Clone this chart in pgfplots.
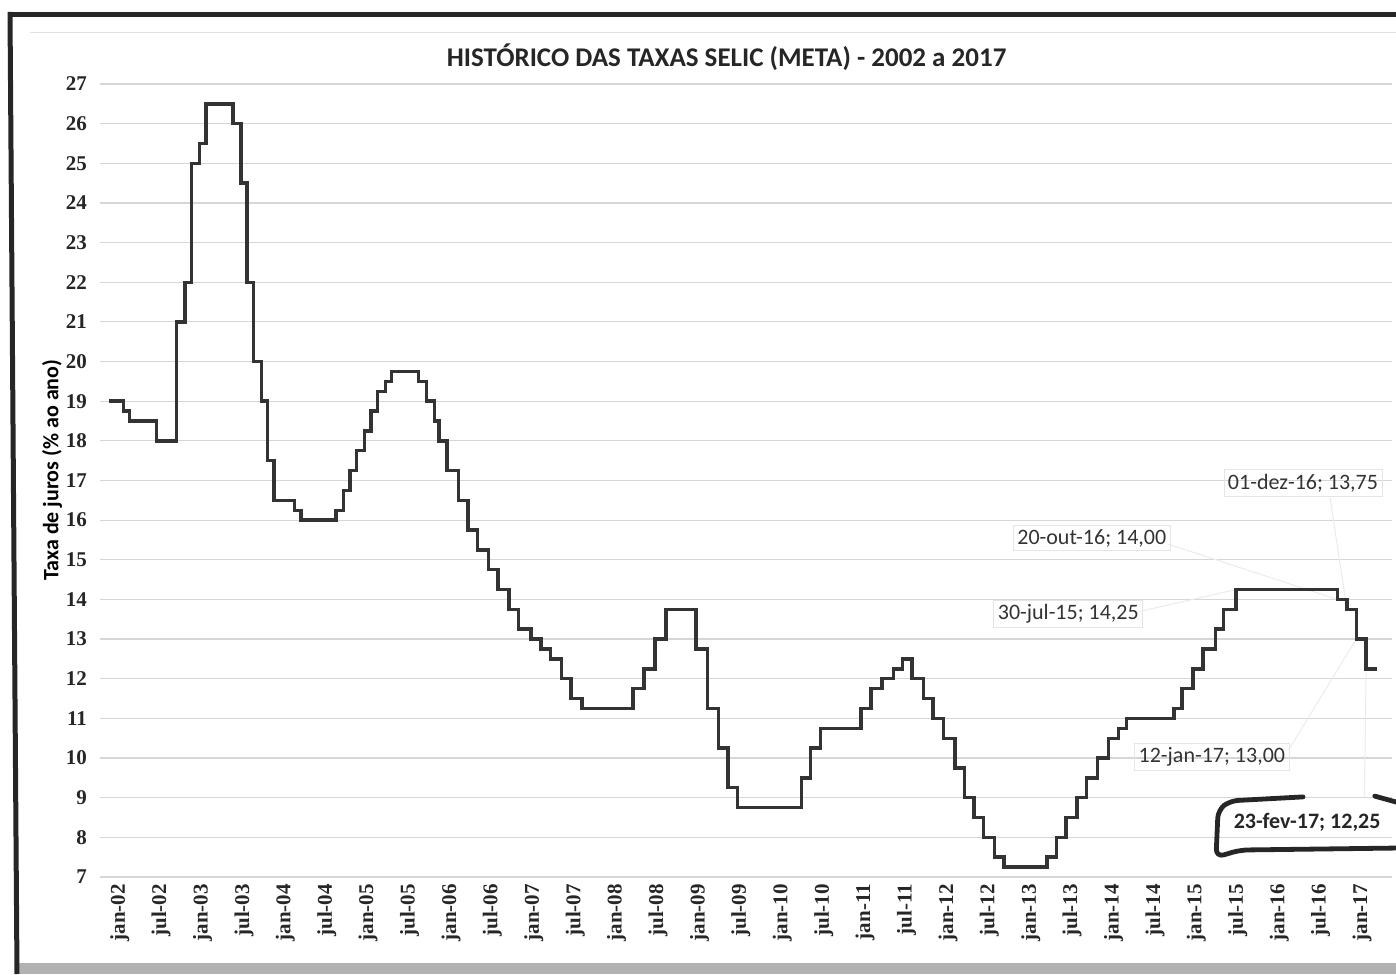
\documentclass[border=0pt]{standalone}
\usepackage{pgfplots}
\pgfplotsset{compat=1.18}
\usepackage{fontspec}
\setmainfont{Carlito}
\newfontfamily\tickfont{Liberation Serif}

\begin{document}
\begin{tikzpicture}
\begin{axis}[
  at={(50pt,48.5pt)}, anchor=south west, scale only axis,
  width=646pt, height=396.5pt,
  xmin=-1.7, xmax=185.5, ymin=7, ymax=27,
  ytick={7,8,...,27},
  xtick={0,6,...,180},
  xticklabels={jan-02,jul-02,jan-03,jul-03,jan-04,jul-04,jan-05,jul-05,jan-06,jul-06,jan-07,jul-07,jan-08,jul-08,jan-09,jul-09,jan-10,jul-10,jan-11,jul-11,jan-12,jul-12,jan-13,jul-13,jan-14,jul-14,jan-15,jul-15,jan-16,jul-16,jan-17},
  axis line style={draw=none}, major tick length=0pt,
  ymajorgrids, grid style={black!16, line width=0.6pt},
  tick label style={font=\tickfont\bfseries\fontsize{10.5}{12}\selectfont, text=black!85},
  /pgf/number format/assume math mode=true,
  yticklabel style={xshift=-3pt},
  xticklabel style={rotate=90, anchor=east, yshift=-4pt},
  ylabel={Taxa de juros (\% ao ano)},
  ylabel style={font=\bfseries\fontsize{11}{13}\selectfont, at={(axis description cs:-0.037,0.513)}, anchor=center},
  clip=false,
]
\node[font=\bfseries\fontsize{13.5}{16}\selectfont, text=black!85] at (axis description cs:0.485,1.034) {HISTÓRICO DAS TAXAS SELIC (META) - 2002 a 2017};

% leader lines (faint)
\draw[black!8, line width=0.5pt] (axis cs:176.5,16.6) -- (axis cs:178.97,13.75);
\draw[black!8, line width=0.5pt] (axis cs:153,15.4) -- (axis cs:177.58,14.0);
\draw[black!8, line width=0.5pt] (axis cs:149,13.7) -- (axis cs:162.9,14.25);
\draw[black!8, line width=0.5pt] (axis cs:170.5,10.2) -- (axis cs:180.32,13.0);
\draw[black!8, line width=0.5pt] (axis cs:181.5,9.0) -- (axis cs:181.75,12.25);

\addplot[const plot, draw=black!80, line width=1.7pt] table {
x y
-0.4 19.00
1.68 18.75
2.61 18.50
6.52 18.00
9.42 21.00
10.63 22.00
11.55 25.00
12.68 25.50
13.64 26.50
17.57 26.00
18.71 24.50
19.61 22.00
20.53 20.00
21.68 19.00
22.60 17.50
23.52 16.50
26.52 16.25
27.43 16.00
32.47 16.25
33.61 16.75
34.53 17.25
35.45 17.75
36.58 18.25
37.54 18.75
38.48 19.25
39.63 19.50
40.55 19.75
44.43 19.50
45.58 19.00
46.73 18.50
47.42 18.00
48.55 17.25
50.23 16.50
51.60 15.75
52.97 15.25
54.58 14.75
55.94 14.25
57.55 13.75
58.93 13.25
60.74 13.00
62.19 12.75
63.57 12.50
65.17 12.00
66.55 11.50
68.13 11.25
75.50 11.75
77.10 12.25
78.71 13.00
80.30 13.75
84.65 12.75
86.32 11.25
87.93 10.25
89.30 9.25
90.68 8.75
99.90 9.50
101.27 10.25
102.65 10.75
108.58 11.25
110.03 11.75
111.63 12.00
113.23 12.25
114.61 12.50
115.97 12.00
117.58 11.50
118.97 11.00
120.55 10.50
122.19 9.75
123.57 9.00
124.94 8.50
126.32 8.00
127.90 7.50
129.29 7.25
135.53 7.50
136.90 8.00
138.29 8.50
139.87 9.00
141.26 9.50
142.87 10.00
144.45 10.50
145.89 10.75
147.03 11.00
153.90 11.25
155.06 11.75
156.65 12.25
158.10 12.75
159.93 13.25
161.07 13.75
162.90 14.25
177.58 14.00
178.97 13.75
180.32 13.00
181.75 12.25
183.30 12.25
};

\node[font=\fontsize{11}{13}\selectfont, text=black!80, draw=black!10, inner sep=2pt] at (axis cs:172.6,16.94) {01-dez-16; 13,75};
\node[font=\fontsize{11}{13}\selectfont, text=black!80, draw=black!10, inner sep=2pt] at (axis cs:142.0,15.55) {20-out-16; 14,00};
\node[font=\fontsize{11}{13}\selectfont, text=black!80, draw=black!10, inner sep=2pt] at (axis cs:138.6,13.63) {30-jul-15; 14,25};
\node[font=\fontsize{11}{13}\selectfont, text=black!80, draw=black!10, inner sep=2pt] at (axis cs:159.4,10.03) {12-jan-17; 13,00};
\node[font=\bfseries\fontsize{11}{13}\selectfont, text=black!85, fill=white, inner sep=2pt] at (axis cs:173.2,8.39) {23-fev-17; 12,25};

% hand-drawn box
\draw[black!85, line width=2.4pt, line cap=round, line join=round, rounded corners=4pt]
  (axis cs:172.6,9.02) -- (axis cs:162.0,8.92) -- (axis cs:160.3,8.69) -- (axis cs:160.0,7.5) -- (axis cs:163.5,7.68) -- (axis cs:186.1,7.73);
\draw[black!85, line width=2.4pt, line cap=round] (axis cs:183.0,9.04) -- (axis cs:186.1,8.89);
\end{axis}

% frame and scan borders
\draw[black!12, line width=0.5pt] (15pt,470.5pt) -- (698pt,470.5pt);
\fill[black!30] (8pt,0pt) rectangle (698pt,5.5pt);
\draw[black!85, line width=2.5pt] (4pt,479.75pt) -- (698pt,479.75pt);
\draw[black!85, line width=2.5pt] (5pt,481pt) -- (8.5pt,0pt);

\pgfresetboundingbox
\useasboundingbox (0pt,0pt) rectangle (698pt,487pt);
\end{tikzpicture}
\end{document}
